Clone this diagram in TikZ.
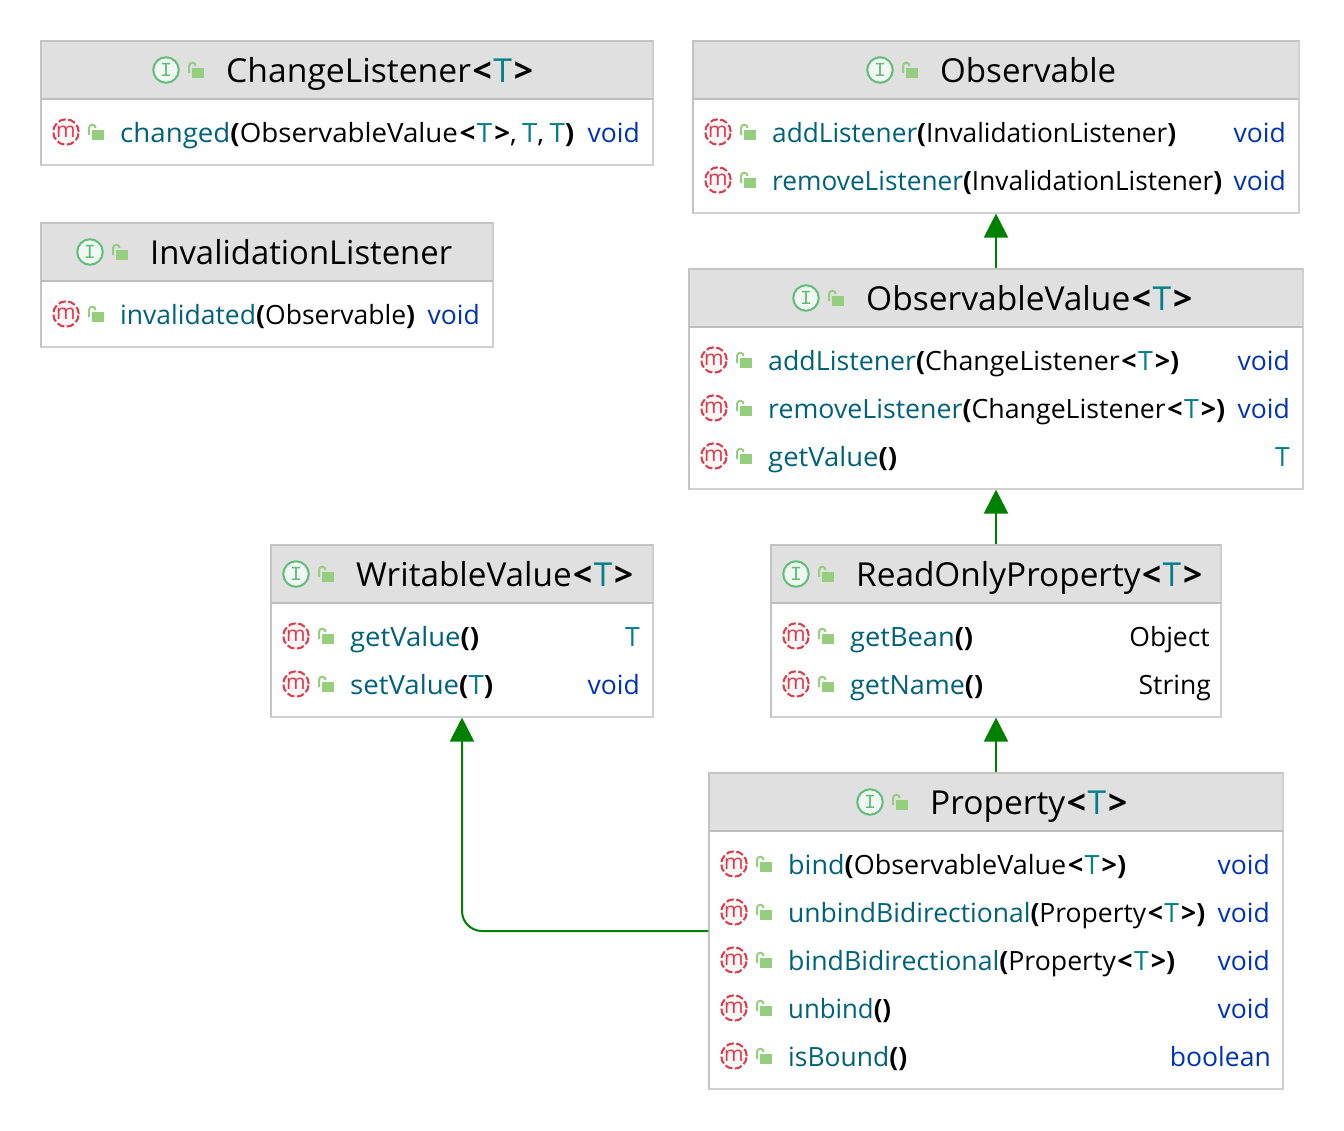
\documentclass[tikz,border=0pt]{standalone}
\usepackage{graphicx}
\usepackage{fontspec}
\setmainfont{Open Sans}
\newfontfamily\monoicon{Liberation Mono}
\usetikzlibrary{arrows.meta}
\definecolor{mname}{HTML}{00627A}
\definecolor{tparam}{HTML}{007E8A}
\definecolor{kw}{HTML}{0033B3}
\definecolor{boxline}{HTML}{D0D0D0}
\definecolor{edgeline}{HTML}{C4C4C4}
\definecolor{headline}{HTML}{BEBEBE}
\definecolor{headfill}{HTML}{E0E0E0}
\definecolor{mred}{HTML}{DB3B4B}
\definecolor{mfill}{HTML}{FDF5F6}
\definecolor{igreen}{HTML}{5FBE78}
\definecolor{ifill}{HTML}{F1F8F3}
\definecolor{lockg}{HTML}{95CE7C}
\definecolor{inh}{HTML}{008000}
\tikzset{
 x=1pt,y=-1pt,
 umlbox/.style={draw=boxline,line width=1.1pt,inner sep=0pt,fill=none},
 titletext/.style={anchor=base west,inner sep=0pt,font=\fontsize{33}{40}\selectfont},
 membertext/.style={anchor=base west,inner sep=0pt,font=\fontsize{26.5}{32}\selectfont},
 rettext/.style={anchor=base east,inner sep=0pt,font=\fontsize{26.5}{32}\selectfont},
 inharrow/.style={draw=inh,line width=2pt,-{Triangle[length=24pt,width=24pt,fill=inh]}},
 iconm/.style={circle,draw=mred,fill=mfill,line width=2pt,minimum size=25.5pt,inner sep=0pt,dash pattern=on 7.5pt off 2.6pt,text=mred,font=\fontsize{21}{21}\selectfont},
 iconi/.style={circle,draw=igreen,fill=ifill,line width=2pt,minimum size=25.5pt,inner sep=0pt,text=igreen,font=\fontsize{20}{20}\monoicon},
}
\newcommand{\lockat}[2]{%
 \fill[lockg] (#1+26,#2-2) rectangle (#1+38,#2+8);
 \draw[lockg,line width=2pt] (#1+23,#2+3) -- (#1+23,#2-4) arc[start angle=180,end angle=0,x radius=3.3pt,y radius=3.3pt];
}
% name, x1,y1,x2,y2,header bottom
\newcommand{\umlbox}[6]{%
 \fill[headfill] (#2,#3) rectangle (#4,#6);
 \node[umlbox,minimum width={(#4-#2)*1pt},minimum height={(#5-#3)*1pt}] (#1) at ({(#2+#4)/2},{(#3+#5)/2}) {};
 \draw[edgeline,line width=1.8pt] (#2,#5) -- (#2,#3) -- (#4,#3);
 \draw[headline,line width=2.6pt] (#2,#6) -- (#4,#6);
}
% name, icon x, center y, width, text
\newcommand{\umltitle}[5]{%
 \node[iconi] (#1i) at (#2,#3) {I};
 \lockat{#2}{#3}
 \node[titletext] (#1t) at (#2+60,#3+12) {\resizebox{#4pt}{\height}{#5}};
}
% name, icon x, center y, width, member text, ret right x, ret text
\newcommand{\umlrow}[7]{%
 \node[iconm] (#1i) at (#2,#3) {m};
 \lockat{#2}{#3}
 \node[membertext] (#1t) at (#2+54,#3+10) {\resizebox{#4pt}{\height}{#5}};
 \node[rettext] (#1r) at (#6,#3+10) {#7};
}
\newcommand{\TP}{\textcolor{tparam}{T}}
\newcommand{\Mn}[1]{\textcolor{mname}{#1}}
\newcommand{\Br}[1]{\textbf{#1}}
\newcommand{\Lt}{\kern1.5pt\textbf{<}\kern1.5pt}
\newcommand{\Gt}{\kern2pt\textbf{>}}
\newcommand{\Cm}{,\kern5pt}
\newcommand{\Kw}[1]{\textcolor{kw}{#1}}
\begin{document}
\begin{tikzpicture}
\useasboundingbox[fill=white] (0,0) rectangle (1344,1130);

\umlbox{cl}{41}{41}{653}{165}{99}
\umltitle{clh}{166}{70}{307}{ChangeListener\Lt\TP\Gt}
\umlrow{cla}{66}{132}{454}{\Mn{changed}\Br{(}ObservableValue\Lt\TP\Gt\Cm\TP\Cm\TP\Br{)}}{640}{\Kw{void}}

\umlbox{il}{41}{223}{493}{347}{281}
\umltitle{ilh}{90}{252}{302}{InvalidationListener}
\umlrow{ila}{66}{314}{295}{\Mn{invalidated}\Br{(}Observable\Br{)}}{480}{\Kw{void}}

\umlbox{ob}{693}{41}{1299}{213}{99}
\umltitle{obh}{880}{70}{176}{Observable}
\umlrow{oba}{718}{132}{404}{\Mn{addListener}\Br{(}InvalidationListener\Br{)}}{1286}{\Kw{void}}
\umlrow{obb}{718}{180}{450}{\Mn{removeListener}\Br{(}InvalidationListener\Br{)}}{1286}{\Kw{void}}

\umlbox{ov}{689}{269}{1303}{489}{327}
\umltitle{ovh}{806}{298}{326}{ObservableValue\Lt\TP\Gt}
\umlrow{ova}{714}{360}{411}{\Mn{addListener}\Br{(}ChangeListener\Lt\TP\Gt\Br{)}}{1290}{\Kw{void}}
\umlrow{ovb}{714}{408}{457}{\Mn{removeListener}\Br{(}ChangeListener\Lt\TP\Gt\Br{)}}{1290}{\Kw{void}}
\umlrow{ovc}{714}{456}{129}{\Mn{getValue}\Br{()}}{1290}{\TP}

\umlbox{wv}{271}{545}{653}{717}{603}
\umltitle{wvh}{296}{574}{277}{WritableValue\Lt\TP\Gt}
\umlrow{wva}{296}{636}{129}{\Mn{getValue}\Br{()}}{640}{\TP}
\umlrow{wvb}{296}{684}{143}{\Mn{setValue}\Br{(}\TP\Br{)}}{640}{\Kw{void}}

\umlbox{ro}{771}{545}{1221}{717}{603}
\umltitle{roh}{796}{574}{346}{ReadOnlyProperty\Lt\TP\Gt}
\umlrow{roa}{796}{636}{123}{\Mn{getBean}\Br{()}}{1210}{Object}
\umlrow{rob}{796}{684}{133}{\Mn{getName}\Br{()}}{1211}{String}

\umlbox{pr}{709}{773}{1283}{1089}{831}
\umltitle{prh}{870}{802}{197}{Property\Lt\TP\Gt}
\umlrow{pra}{734}{864}{338}{\Mn{bind}\Br{(}ObservableValue\Lt\TP\Gt\Br{)}}{1270}{\Kw{void}}
\umlrow{prb}{734}{912}{417}{\Mn{unbindBidirectional}\Br{(}Property\Lt\TP\Gt\Br{)}}{1270}{\Kw{void}}
\umlrow{prc}{734}{960}{387}{\Mn{bindBidirectional}\Br{(}Property\Lt\TP\Gt\Br{)}}{1270}{\Kw{void}}
\umlrow{prd}{734}{1008}{103}{\Mn{unbind}\Br{()}}{1270}{\Kw{void}}
\umlrow{pre}{734}{1056}{119}{\Mn{isBound}\Br{()}}{1271}{\Kw{boolean}}

\draw[inharrow] (ov.north) -- (ob.south);
\draw[inharrow] (ro.north) -- (ov.south);
\draw[inharrow] (pr.north) -- (ro.south);
\draw[inharrow,rounded corners=20pt] (pr.west) -| (wv.south);
\end{tikzpicture}
\end{document}
